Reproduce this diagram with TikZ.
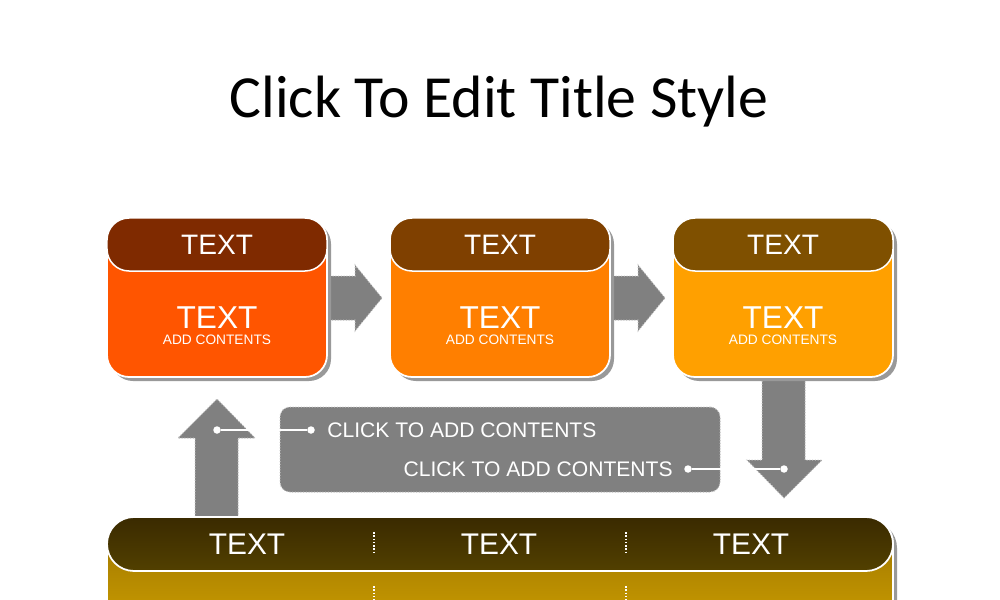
\documentclass[tikz,border=0pt]{standalone}
\usepackage{fontspec}
\setmainfont{Liberation Sans}
\newfontfamily\titlefont{Carlito}
\usetikzlibrary{positioning,shadows}
\definecolor{headA}{HTML}{7F2A00}
\definecolor{bodyA}{HTML}{FF5500}
\definecolor{headB}{HTML}{7F4000}
\definecolor{bodyB}{HTML}{FF7F00}
\definecolor{headC}{HTML}{7F5000}
\definecolor{bodyC}{HTML}{FFA000}
\definecolor{arrowgray}{HTML}{808080}
\definecolor{bandtop}{HTML}{3A2A00}
\definecolor{bandbot}{HTML}{524000}
\definecolor{goldtop}{HTML}{9A7200}
\definecolor{goldbot}{HTML}{DCAC00}
\begin{document}
\begin{tikzpicture}[x=0.2mm, y=-0.2mm,
  body node/.style={rectangle, rounded corners=4.4mm, draw=white, line width=0.35mm, minimum width=44mm, minimum height=31.8mm, inner sep=0pt,
    drop shadow={shadow xshift=0.8mm, shadow yshift=-0.8mm, fill=black!40, opacity=1}},
  head node/.style={rectangle, rounded corners=4.4mm, draw=white, line width=0.3mm, minimum width=44mm, minimum height=10.6mm, inner sep=0pt, text=white, font=\fontsize{16}{18}\selectfont},
  big text/.style={text=white, anchor=base, inner sep=0pt, font=\fontsize{18}{20}\selectfont},
  small text/.style={text=white, anchor=base, inner sep=0pt, font=\fontsize{7.8}{8}\selectfont},
  block arrow/.style={fill=arrowgray, draw=black!25, densely dotted, line width=0.2mm},
  note node/.style={rectangle, rounded corners=2mm, fill=arrowgray, draw=black!25, densely dotted, line width=0.2mm, minimum width=88mm, minimum height=17mm, inner sep=0pt},
  note text/.style={text=white, anchor=base, inner sep=0pt, font=\fontsize{12}{14}\selectfont},
  dot/.style={circle, fill=white, inner sep=0pt, minimum size=1.5mm},
  sep line/.style={white, densely dotted, line width=0.3mm}]
\clip (0,0) rectangle (1000,600);
\fill[white] (0,0) rectangle (1000,600);
\node[anchor=base, inner sep=0pt, font=\titlefont\fontsize{34}{40}\selectfont] (title) at (499,118) {Click To Edit Title Style};%title

% block arrows
\draw[block arrow] (327,276) -- (355,276) -- (355,265) -- (382,298) -- (355,331) -- (355,320) -- (327,320) -- cycle;%1-2
\draw[block arrow] (610,276) -- (638,276) -- (638,265) -- (665,298) -- (638,331) -- (638,320) -- (610,320) -- cycle;%2-3
\draw[block arrow] (195,525) -- (195,438) -- (178,438) -- (217,399) -- (255,438) -- (238,438) -- (238,525) -- cycle;%up
\draw[block arrow] (762,370) -- (762,460) -- (747,460) -- (784,498) -- (822,460) -- (805,460) -- (805,370) -- cycle;%down

% three boxes
\begin{scope}
\node[body node, fill=bodyA] (body1) at (217,297.5) {};%1
\node[head node, fill=headA] (head1) at (217,244.5) {TEXT};
\node[big text] (main1) at (217,328) {TEXT};
\node[small text] (add1) at (217,344) {ADD CONTENTS};
\node[body node, fill=bodyB] (body2) at (500,297.5) {};%2
\node[head node, fill=headB] (head2) at (500,244.5) {TEXT};
\node[big text] (main2) at (500,328) {TEXT};
\node[small text] (add2) at (500,344) {ADD CONTENTS};
\node[body node, fill=bodyC] (body3) at (783,297.5) {};%3
\node[head node, fill=headC] (head3) at (783,244.5) {TEXT};
\node[big text] (main3) at (783,328) {TEXT};
\node[small text] (add3) at (783,344) {ADD CONTENTS};
\end{scope}

% note box
\node[note node] (note) at (500,449.5) {};
\node[note text, anchor=base west] (line1) at (327,437) {CLICK TO ADD CONTENTS};
\node[note text, anchor=base east] (line2) at (673,476) {CLICK TO ADD CONTENTS};
\node[dot] (d1) at (217,430) {};
\node[dot] (d2) at (311,430) {};
\node[dot] (d3) at (688,469) {};
\node[dot] (d4) at (784,469) {};
\draw[white, line width=0.35mm] (d1) -- (d2);
\draw[white, line width=0.35mm] (d3) -- (d4);

% bottom band
\node[rectangle, rounded corners=5.4mm, draw=white, line width=0.35mm, top color=goldtop, bottom color=goldbot, minimum width=157.2mm, minimum height=30mm, inner sep=0pt,
  drop shadow={shadow xshift=0.8mm, shadow yshift=-0.8mm, fill=black!40, opacity=1}] (band) at (500,592) {};
\node[rectangle, rounded corners=5.4mm, draw=white, line width=0.35mm, top color=bandtop, bottom color=bandbot, minimum width=157.2mm, minimum height=10.8mm, inner sep=0pt] (bandhead) at (500,544) {};
\node[text=white, font=\fontsize{17}{20}\selectfont] (t1) at (247,544) {TEXT};
\node[text=white, font=\fontsize{17}{20}\selectfont] (t2) at (499,544) {TEXT};
\node[text=white, font=\fontsize{17}{20}\selectfont] (t3) at (751,544) {TEXT};
\draw[sep line] (374,532) -- (374,553);
\draw[sep line] (626,532) -- (626,553);
\draw[sep line] (374,586) -- (374,600);
\draw[sep line] (626,586) -- (626,600);
\end{tikzpicture}
\end{document}
